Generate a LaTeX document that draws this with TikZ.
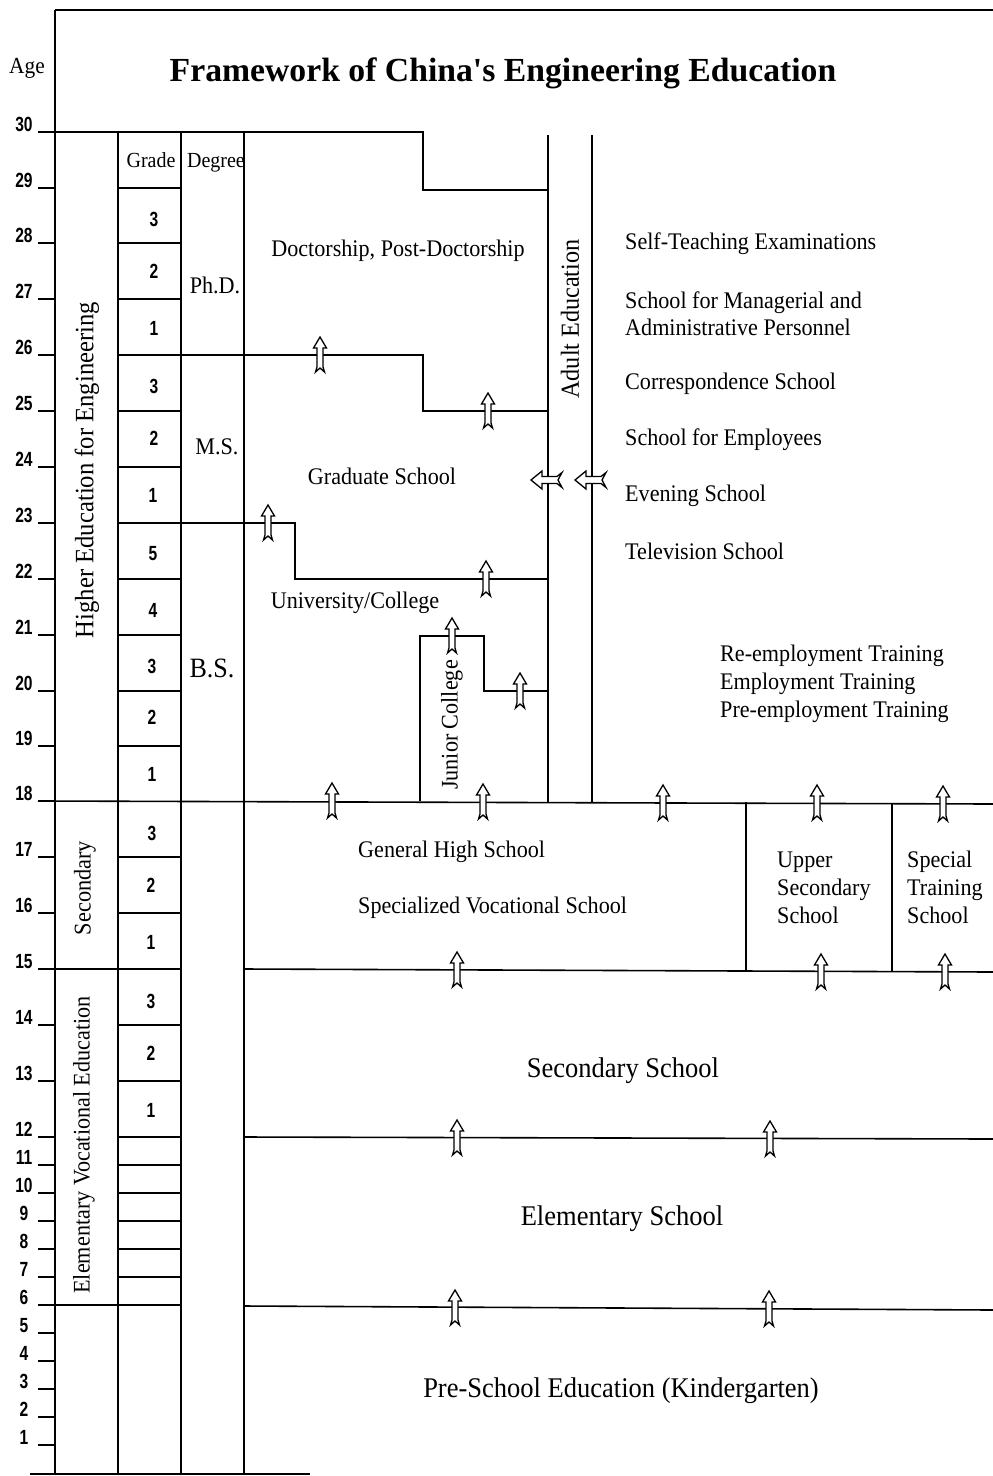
\documentclass[tikz,border=0pt]{standalone}
\usepackage{fontspec}
\setmainfont{Liberation Serif}
\newfontfamily\bodyfont{Liberation Serif}[FakeStretch=0.93]
\newfontfamily\titlefont{Liberation Serif}[Ligatures=TeXOff]
\newfontfamily\numfont{Liberation Sans}[FakeStretch=0.76]
\begin{document}
\begin{tikzpicture}[x=1pt,y=-1pt,
  ln/.style={line width=1.6pt},
  txt/.style={inner sep=0pt,font={\bodyfont\fontsize{23.8pt}{27pt}\selectfont}},
  big/.style={inner sep=0pt,font={\bodyfont\fontsize{28.5pt}{32pt}\selectfont}},
  small/.style={inner sep=0pt,align=left,font={\bodyfont\fontsize{23.8pt}{28pt}\selectfont}},
  head/.style={inner sep=0pt,anchor=base,font={\bodyfont\fontsize{21.5pt}{24pt}\selectfont}},
  vert/.style={inner sep=0pt,rotate=90},
  agenum/.style={inner sep=0pt,anchor=base,font={\numfont\bfseries\fontsize{20.5pt}{22pt}\selectfont}},
  gnum/.style={inner sep=0pt,font={\numfont\bfseries\fontsize{20.5pt}{22pt}\selectfont}},
  uparr/.pic={\draw[line width=1.3pt,fill=white,line join=miter]
     (0,-18) -- (6.5,-7) -- (3,-7) -- (3,12) -- (4.5,17) -- (0,13) -- (-4.5,17)
     -- (-3,12) -- (-3,-7) -- (-6.5,-7) -- cycle;},
  leftarr/.pic={\draw[line width=1.3pt,fill=white,line join=miter]
     (-16,0) -- (-5,-9) -- (-5,-3.5) -- (10,-3.5) -- (15,-7.5) -- (11,0) -- (15,7.5)
     -- (10,3.5) -- (-5,3.5) -- (-5,9) -- cycle;}
]
\useasboundingbox (0,0) rectangle (993,1476);

% frame and columns
\draw[ln] (55,10) -- (993,10);
\draw[ln] (55,10) -- (55,1474);
\draw[ln] (118,132) -- (118,1474);
\draw[ln] (181,132) -- (181,1474);
\draw[ln] (244,132) -- (244,1474);
\draw[ln] (30,1474) -- (310,1474);

% age scale
\foreach \a/\y in {30/132,29/188,28/243,27/299,26/355,25/411,24/467,23/523,22/579,21/635,20/691,19/746,18/801,17/857,16/913,15/969,14/1025,13/1081,12/1137,11/1165,10/1193,9/1221,8/1249,7/1277,6/1305,5/1333,4/1361,3/1389,2/1417,1/1445}
{
  \draw[ln] (38,\y) -- (55,\y);
  \node[agenum] (age\a) at (24,\y-1) {\a};
}
\node[inner sep=0pt,font={\bodyfont\fontsize{23pt}{24pt}\selectfont}] (agelbl) at (27,68) {Age};

% title
\node[inner sep=0pt,font={\titlefont\bfseries\fontsize{33.7pt}{36pt}\selectfont}] (title) at (503,73) {Framework of China's Engineering Education};

% main boundaries
\draw[ln] (38,132) -- (423,132) -- (423,190) -- (548,190);
\draw[ln] (548,135) -- (548,802);
\draw[ln] (592,135) -- (592,802);
\draw[ln] (118,355) -- (423,355) -- (423,411) -- (548,411);
\draw[ln] (118,523) -- (295,523) -- (295,579) -- (548,579);
\draw[ln] (420,801) -- (420,636) -- (484,636) -- (484,691) -- (548,691);
\draw[ln] (38,801) -- (993,804);
\draw[ln] (746,802) -- (746,971);
\draw[ln] (892,803) -- (892,972);
\draw[ln] (38,969) -- (181,969);
\draw[ln] (244,969) -- (993,972);
\draw[ln] (244,1137) -- (993,1139);
\draw[ln] (38,1305) -- (181,1305);
\draw[ln] (244,1306) -- (993,1310);

% grade cells
\foreach \y in {188,243,299,411,467,579,635,691,746,857,913,1025,1081,1137,1165,1193,1221,1249,1277}
  \draw[ln] (118,\y) -- (181,\y);

\node[head] (grade) at (151,167) {Grade};
\node[head] (degree) at (216,167) {Degree};
\foreach \g/\x/\y [count=\i] in {3/154/219,2/154/271,1/154/328,3/154/386,2/154/438,1/153/495,5/153/554,4/153/610,3/152/666,2/152/717,1/152/774,3/152/833,2/151/885,1/151/942,3/151/1001,2/151/1053,1/151/1110}
  \node[gnum] (g\i) at (\x,\y) {\g};

\node[txt] (phd) at (215,285) {Ph.D.};
\node[txt] (ms) at (217,447) {M.S.};
\node[inner sep=0pt,font={\bodyfont\fontsize{28pt}{30pt}\selectfont}] (bs) at (212,668) {B.S.};

% vertical labels
\node[vert,font={\bodyfont\fontsize{26.5pt}{28pt}\selectfont}] (higher) at (87,470) {Higher Education for Engineering};
\node[vert,font={\bodyfont\fontsize{24pt}{26pt}\selectfont}] (second) at (85,888) {Secondary};
\node[vert,font={\bodyfont\fontsize{23.8pt}{26pt}\selectfont}] (elemvoc) at (84,1145) {Elementary Vocational Education};
\node[vert,font={\bodyfont\fontsize{26pt}{28pt}\selectfont}] (adult) at (570,319) {Adult Education};
\node[vert,font={\bodyfont\fontsize{23.8pt}{26pt}\selectfont}] (junior) at (452,725) {Junior College};

% main texts
\node[txt] (doct) at (398,251) {Doctorship, Post-Doctorship};
\node[txt] (grad) at (382,476) {Graduate School};
\node[txt] (univ) at (355,603) {University/College};

\node[txt,anchor=west] (selft) at (625,244) {Self-Teaching Examinations};
\node[txt,anchor=west,align=left] (manag) at (625,314) {School for Managerial and\\Administrative Personnel};
\node[txt,anchor=west] (corr) at (625,384) {Correspondence School};
\node[txt,anchor=west] (empl) at (625,440) {School for Employees};
\node[txt,anchor=west] (even) at (625,496) {Evening School};
\node[txt,anchor=west] (tele) at (625,551) {Television School};

\node[small,anchor=west] (reemp) at (720,684) {Re-employment Training\\Employment Training\\Pre-employment Training};

\node[txt,anchor=west] (genhigh) at (358,852) {General High School};
\node[txt,anchor=west] (specvoc) at (358,908) {Specialized Vocational School};
\node[txt,anchor=west,align=left,font={\bodyfont\fontsize{23.8pt}{28pt}\selectfont}] (upper) at (777,888) {Upper\\Secondary\\School};
\node[txt,anchor=west,align=left,font={\bodyfont\fontsize{23.8pt}{28pt}\selectfont}] (special) at (907,887) {Special\\Training\\School};

\node[big] (secsch) at (623,1071) {Secondary School};
\node[big] (elemsch) at (622,1219) {Elementary School};
\node[big] (presch) at (621,1391) {Pre-School Education (Kindergarten)};

% arrows
\foreach \x/\y [count=\i] in {320/355,488/411,268/523,486/579,452/636,520/691,332/801,483/802,663/803,817/803,943/804,457/970,821/972,945/972,457/1138,770/1139,455/1308,769/1309}
  \pic (ua\i) at (\x,\y) {uparr};
\pic (la1) at (547,480) {leftarr};
\pic (la2) at (591,480) {leftarr};

\end{tikzpicture}
\end{document}
